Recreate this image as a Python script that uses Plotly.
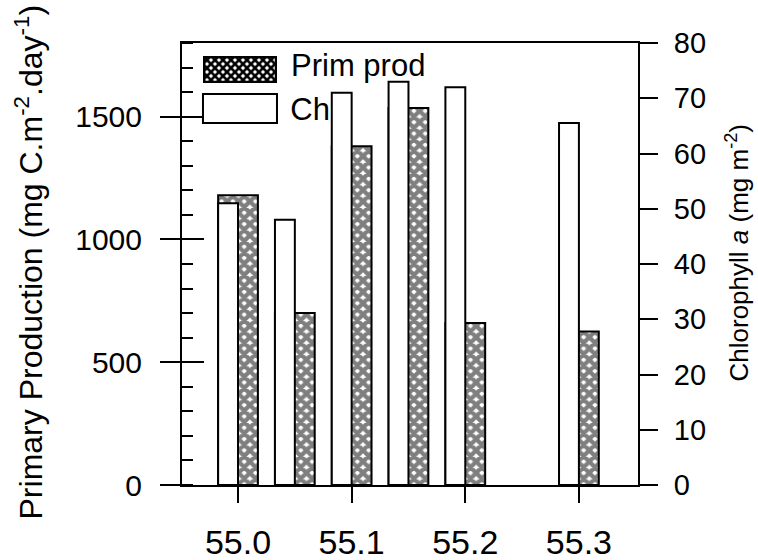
import base64
import plotly.graph_objects as go

# Station latitudes (degrees N) and measured values
stations = [55.0, 55.05, 55.1, 55.15, 55.2, 55.3]
prim_prod = [1180, 700, 1380, 1535, 660, 625]     # mg C m-2 day-1
chl_a = [51, 48, 71, 73, 72, 65.5]                 # mg m-2

x_tick_vals = [55.0, 55.1, 55.2, 55.3]
x_tick_text = ["55.0", "55.1", "55.2", "55.3"]
pp_tick_vals = [0, 500, 1000, 1500]
chl_tick_vals = [0, 10, 20, 30, 40, 50, 60, 70, 80]

FONT = "Liberation Sans, Arial, sans-serif"
BAR_W = 0.0175

fig = go.Figure()

# Legend label for chlorophyll sits under the overlay bars, so it is a text trace
fig.add_trace(go.Scatter(
    x=[55.046], y=[1516], mode="text", text=["Chl"],
    textposition="middle right",
    textfont=dict(family=FONT, size=31, color="black"),
    hoverinfo="skip", showlegend=False,
))

# Primary production: cross-hatched bars (left axis)
fig.add_trace(go.Bar(
    x=stations, y=prim_prod, yaxis="y",
    width=2 * BAR_W, offset=-BAR_W,
    marker=dict(
        color="white",
        line=dict(color="black", width=2),
        pattern=dict(shape="x", size=8, solidity=0.78,
                     fgcolor="black", bgcolor="white"),
    ),
    showlegend=False, hoverinfo="skip",
))

# Chlorophyll a: open bars (right axis)
fig.add_trace(go.Bar(
    x=stations, y=chl_a, yaxis="y2",
    width=BAR_W, offset=-BAR_W,
    marker=dict(color="white", line=dict(color="black", width=2)),
    showlegend=False, hoverinfo="skip",
))

# Empty trace so the inner-tick axis is drawn
fig.add_trace(go.Scatter(x=[], y=[], yaxis="y3", showlegend=False,
                         hoverinfo="skip"))

# Hatched legend swatch as an inline SVG
svg = (
    "<svg xmlns='http://www.w3.org/2000/svg' width='74' height='27'>"
    "<defs><pattern id='p' width='8' height='8' patternUnits='userSpaceOnUse'>"
    "<path d='M-1,-1L9,9M9,-1L-1,9' stroke='black' stroke-width='2.6'/>"
    "</pattern></defs>"
    "<rect width='74' height='27' fill='white'/>"
    "<rect x='1' y='1' width='72' height='25' fill='url(#p)' "
    "stroke='black' stroke-width='2.5'/></svg>"
)
src = "data:image/svg+xml;base64," + base64.b64encode(svg.encode()).decode()

fig.add_layout_image(dict(
    source=src, xref="paper", yref="paper",
    x=0.046, y=0.9706, sizex=0.1623, sizey=0.0611,
    xanchor="left", yanchor="top", sizing="stretch", layer="below",
))

fig.add_shape(type="rect", xref="paper", yref="paper",
              x0=0.046, x1=0.2083, y0=0.819, y1=0.8846,
              line=dict(color="black", width=2), fillcolor="white",
              layer="below")

fig.add_annotation(text="Prim prod", xref="paper", yref="paper",
                   x=0.235, y=0.95, xanchor="left", yanchor="middle",
                   showarrow=False,
                   font=dict(family=FONT, size=31, color="black"))

# Axis titles
fig.add_annotation(
    text="Primary Production (mg C.m<sup>-2</sup>.day<sup>-1</sup>)",
    xref="paper", yref="paper", x=-0.335, y=0.504,
    xanchor="center", yanchor="middle", textangle=-90, showarrow=False,
    font=dict(family=FONT, size=32, color="black"),
)
fig.add_annotation(
    text="Chlorophyll <i>a</i> (mg m<sup>-2</sup>)",
    xref="paper", yref="paper", x=1.218, y=0.527,
    xanchor="center", yanchor="middle", textangle=-90, showarrow=False,
    font=dict(family=FONT, size=26, color="black"),
)

axis_common = dict(showgrid=False, zeroline=False, linecolor="black",
                   tickcolor="black", tickwidth=2, linewidth=2,
                   automargin=False)

fig.update_layout(
    width=758, height=560,
    margin=dict(l=182, r=120, t=43, b=75, autoexpand=False),
    paper_bgcolor="white", plot_bgcolor="white",
    barmode="overlay",
    showlegend=False,
    xaxis=dict(
        range=[54.9507, 55.352], tickvals=x_tick_vals, ticktext=x_tick_text,
        ticks="outside", ticklen=16, showline=True, mirror=True,
        ticklabelstandoff=10,
        tickfont=dict(family=FONT, size=34, color="black"),
        **axis_common,
    ),
    yaxis=dict(
        range=[0, 1800], tickvals=pp_tick_vals, ticks="outside", ticklen=20,
        showline=True, ticklabelstandoff=12,
        minor=dict(ticks="inside", dtick=100, tick0=0, ticklen=11,
                   tickwidth=2, tickcolor="black"),
        tickfont=dict(family=FONT, size=30, color="black"),
        **axis_common,
    ),
    yaxis2=dict(
        range=[0, 80], tickvals=chl_tick_vals, overlaying="y", side="right",
        ticks="outside", ticklen=18, showline=True, ticklabelstandoff=10,
        tickfont=dict(family=FONT, size=29, color="black"),
        **axis_common,
    ),
    yaxis3=dict(
        range=[0, 1800], tickvals=pp_tick_vals, overlaying="y", side="left",
        ticks="inside", ticklen=22, showline=False, showticklabels=False,
        showgrid=False, zeroline=False, tickcolor="black", tickwidth=2,
        automargin=False,
    ),
)

fig.write_html("out.html")
